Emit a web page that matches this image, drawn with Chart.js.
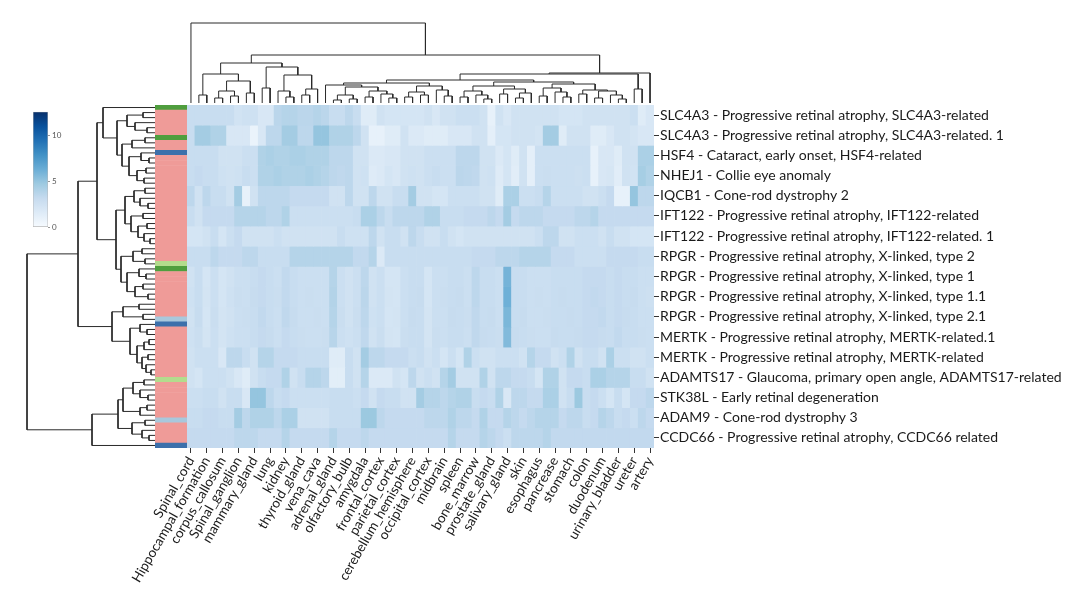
<!DOCTYPE html>
<html>
<head>
<meta charset="utf-8">
<script src="https://cdn.jsdelivr.net/npm/chart.js@4.4.1/dist/chart.umd.min.js"></script>
<style>
  html, body { margin: 0; padding: 0; background: #fff; }
  #wrap { position: relative; width: 1080px; height: 610px; overflow: hidden; }
  canvas { position: absolute; }
</style>
</head>
<body>
<div id="wrap">
  <canvas id="heat"  width="1080" height="610" style="left:0;top:0"></canvas>
  <canvas id="strip" width="32"   height="343" style="left:155px;top:105px"></canvas>
  <canvas id="dendL" width="135"  height="343" style="left:20px;top:105px"></canvas>
  <canvas id="dendT" width="467"  height="88"  style="left:187px;top:15px"></canvas>
  <canvas id="cbar"  width="40"   height="129" style="left:33px;top:105px"></canvas>
</div>
<script>
// ── Data ──────────────────────────────────────────────────────
const rowLabels = [
  'SLC4A3 - Progressive retinal atrophy, SLC4A3-related',
  'SLC4A3 - Progressive retinal atrophy, SLC4A3-related. 1',
  'HSF4 - Cataract, early onset, HSF4-related',
  'NHEJ1 - Collie eye anomaly',
  'IQCB1 - Cone-rod dystrophy 2',
  'IFT122 - Progressive retinal atrophy, IFT122-related',
  'IFT122 - Progressive retinal atrophy, IFT122-related. 1',
  'RPGR - Progressive retinal atrophy, X-linked, type 2',
  'RPGR - Progressive retinal atrophy, X-linked, type 1',
  'RPGR - Progressive retinal atrophy, X-linked, type 1.1',
  'RPGR - Progressive retinal atrophy, X-linked, type 2.1',
  'MERTK - Progressive retinal atrophy, MERTK-related.1',
  'MERTK - Progressive retinal atrophy, MERTK-related',
  'ADAMTS17 - Glaucoma, primary open angle, ADAMTS17-related',
  'STK38L - Early retinal degeneration',
  'ADAM9 - Cone-rod dystrophy 3',
  'CCDC66 - Progressive retinal atrophy, CCDC66 related'
];

// only every other tissue column carries a visible label
const shownTissues = [
  'Spinal_cord', 'Hippocampal_formation', 'corpus_callosum', 'Spinal_ganglion',
  'mammary_gland', 'lung', 'kidney', 'thyroid_gland', 'vena_cava', 'adrenal_gland',
  'olfactory_bulb', 'amygdala', 'frontal_cortex', 'parietal_cortex',
  'cerebellum_hemisphere', 'occipital_cortex', 'midbrain', 'spleen', 'bone_marrow',
  'prostate_gland', 'salivary_gland', 'skin', 'esophagus', 'pancrease', 'stomach',
  'colon', 'duodenum', 'urinary_bladder', 'ureter', 'artery'
];
const N_COLS = 59;

const row0  = [3,3,3,3,3,3,2.4,2.6,2.6,2,2,3.6,3.8,3.8,3.6,3.6,3.8,3.6,3,3,3.5,3,1.5,1.5,2.5,2.2,2.2,2.2,2.2,2.2, 2.5,2,2.5,2.5,2.8,2.8,2.8,2.5,1,2.5,2,2.5,2.5,2.5,2.5,2.5,2.5,2.2,2.2,2.2,2.5,2.5,2.5,2.5,2.5,2.5,2.8,1.5,2];
const row1  = [3,4.5,4.5,4,4,2,2,2,0.8,2,3.5,3.5,4.5,4.5,3.5,3.5,5,5,4,4,4,3.5,2.5,1,1,1.5,1.5,2.5,1.8,1.8, 1.5,1.5,1.5,2,2,2,2.5,2.5,1.2,2.2,2.2,2.5,2.5,2.5,2.3,4.5,4.5,1.5,2.5,2.5,2.5,1.5,1.5,2,2.5,2.5,2.3,2,2];
const row2  = [3,3,3,3,2.5,2.5,2.5,2.8,2.8,4,4.2,4,4,4.2,4.2,4,4,4,3.5,3.5,3.5,2.5,2.5,1.8,1.8,2,2,2.5,2.5,2.5, 2.8,2.8,2.8,2.8,3.5,3.5,3.5,2.5,2.5,1.8,2.2,1.5,2.5,1.2,2.8,2.8,2.8,2.8,2.8,2.8,2.8,1,2,2,1.5,2.5,2.5,4.2,4.2];
const row3  = [3,3.2,3,3,2.6,2.5,2.6,3,2.8,4,4,4.2,4,4,4,4.2,4,3.8,3.5,3.4,3.5,2.5,2.6,1.6,1.8,2.2,2,2.5,2.6,2.5, 2.8,3,2.8,2.8,3.6,3.5,3.4,2.5,2.6,1.6,2.2,1.4,2.5,1.2,2.8,2.9,2.8,2.8,2.8,2.7,2.8,1,2,2.1,1.4,2.5,2.4,4.4,4];
const row4  = [3.5,2.5,3.5,3,3,2.5,4.5,1,2.5,3.5,3.5,3.5,3.5,3.2,3.2,3.2,3.2,3.2,2.5,2.5,3.5,2.5,2.5,3.5,2.5,2.5,3,3,4.5,2.5, 2.5,2.2,2.2,2.8,2.8,2.8,2.8,2.5,2.5,1.5,4.2,4.2,2.8,2.8,3,3.8,2.8,2.8,2.8,2.8,2.5,2.5,2.8,3.2,1,1,5,3.5,3.5];
const row5  = [3,2.5,3.2,3.2,3.2,3.2,3.8,3.8,3.8,3.8,3.5,3.5,4,2.8,2.8,2.8,2.8,2.8,2.8,2.8,2.8,3,4.2,4.2,3.5,3,3.5,3.5,3.5,3.5, 4,4,3,3,3,3.2,3.2,3.2,3.5,3.2,4.5,3.2,3.5,3.5,3.5,3.2,3.2,3.2,3.2,3.5,3.5,3.8,3.2,3.2,3.2,3.2,3.2,3.2,3.2];
const row6  = [2.2,2.2,2.5,3,2.2,2.8,3.2,2.5,2.5,2.5,2.5,2.8,2.5,2.5,2.5,2.5,2.5,2.5,2.5,3,2.6,2.6,2.6,3.5,2.5,3,3,2.5,3.5,3, 2.5,2.5,3,2.5,2.2,2.5,2.5,2.5,2.5,2.5,2.5,2.5,2.5,2.5,2.8,3.5,3.5,2.5,2.5,2.8,2.8,2.8,2.5,3,2.5,2.5,2.2,2.2,2.2];
const row7  = [3,3,3,3.5,3.2,3.2,3.2,3.5,3.5,3,3,3,3,3.8,3.8,3.8,3.8,3.8,3.8,3.8,3.8,3.3,3.3,3.8,1.8,3,3,3,3,3, 3,3,3,3,3,3,3.2,3.2,3.2,3.5,3.5,3.5,3.8,3.8,3.8,3.8,3.2,3.2,3.2,2.8,2.8,2.8,2.8,3.2,3.2,3.2,3.2,3,3];
const row8  = [2.5,3,2.2,2.8,2.2,2.5,2.8,2.8,3,3.2,3,2.8,3.3,3,2.8,2.8,2.8,2.8,3.8,2.8,2.5,2.8,3.5,2.5,2.8,2.2,2.2,2.8,3,3, 2.2,2.8,2.8,3,3,2.8,3.5,3,3,2.8,6,3,3,2.8,2.8,2.8,3,3,3,3,3.2,3.2,3.2,3,3.2,3,3,2.8,2.8];
const row9  = [2.6,3,2.3,2.8,2.2,2.6,2.9,2.8,3.1,3.2,3,2.9,3.3,3,2.8,2.9,2.8,2.8,3.9,2.8,2.5,2.8,3.6,2.5,2.8,2.3,2.2,2.8,3,3.1, 2.2,2.8,2.9,3,3.1,2.8,3.5,3,3,2.8,6.2,3,3,2.8,2.9,2.8,3,3.1,3,3,3.2,3.3,3.2,3,3.2,3,3.1,2.8,2.7];
const row10 = [2.5,3.1,2.2,2.9,2.3,2.5,2.8,2.9,3,3.3,3,2.8,3.4,3.1,2.8,2.8,2.9,2.8,3.8,2.9,2.5,2.9,3.5,2.6,2.8,2.2,2.3,2.8,3.1,3, 2.3,2.8,2.8,3.1,3,2.9,3.4,3,3.1,2.8,5.8,3,3.1,2.8,2.8,2.9,3,3,3.1,3,3.2,3.2,3.3,3,3.2,3.1,3,2.8,2.8];
const row11 = [2.6,2.9,2.3,2.8,2.3,2.6,2.8,2.8,3,3.2,3.1,2.8,3.2,3,2.9,2.8,2.8,2.9,3.7,2.8,2.6,2.8,3.4,2.5,2.9,2.3,2.2,2.9,3,3, 2.3,2.9,2.8,3,3,2.8,3.4,3.1,3,2.9,5.6,3.1,3,2.9,2.8,2.8,3.1,3,3,3.1,3.2,3.2,3.1,3,3.3,3,3,2.9,2.8];
const row12 = [2.5,2.8,2.8,2.8,2,3.5,3.5,3,2.5,3.8,3.8,3.2,3.2,3.2,3,3,3,3,1.5,1.5,3,2.5,4.5,3.5,3.5,3.2,3.2,3.2,2.8,3, 2.5,2.8,2.2,2.8,2.2,4,2.8,2.5,2.5,2.8,2.8,2.8,2.5,3.8,3.2,3.2,2.5,2.8,4,2.5,3,3,2.5,4.2,2.8,2.8,2.5,2.5,2.8];
const row13 = [2.5,2.2,2.8,2.8,2.8,2.5,2,1.5,2.5,3,3.2,3.2,4,2.5,3,3.8,3.8,3.5,1.3,1.3,3,2.5,3.8,1.8,1.8,1.8,2.5,2.2,3.5,2.5, 2.8,2.5,3.8,4.5,2.5,2.5,2.5,4,2.5,3.5,3.5,3.2,3.2,3,2.2,4,4,2.5,3.2,3.2,3,4.2,4.2,3.8,3.8,3.8,3,3,2.5];
const row14 = [2.8,2.8,3,3,2.5,3,3,2,5,5,3.5,3,3.2,2.8,2.8,2.8,2.8,2.8,3,3,3,2.8,3.2,2.5,3.2,3,3,2.5,2.5,4.5, 3.8,3.8,3.5,3.8,4,4,3,3.2,3,4,2,3.5,3.5,3.2,3.2,4.2,4.2,2.5,3,4.8,3,3.2,2.8,2.2,3,2.2,3.2,3.2,3.5];
const row15 = [3,3,3.2,3.2,3,3,4.5,3.5,4,4,4,3.5,4.2,4.2,2.5,2.5,2.5,2.5,3,3,3,3,4.8,4.8,3.5,3.2,3.2,3.2,3.2,3.2, 3.5,3.5,3.5,4,3.5,3.5,3.2,4,3.2,3.2,3.8,3.5,3.2,3.5,3.8,3.8,3.8,3.2,3.5,3.5,3,3.2,3.8,3.5,3,3.2,2.8,3.5,3.2];
const row16 = [3.2,3.2,3.2,3.2,3.2,3.2,3.5,3.5,3.5,3.2,3.2,3.2,3.8,3.2,3.2,3.2,3.2,3.2,3.8,3.2,3.2,3.2,3.5,3.2,3.2,3.2,3.2,3.2,3.2,3.2, 3.2,3.2,3.2,3.8,3.2,3.2,3.2,3.8,3.5,3.2,2.8,3.5,3.5,3.5,3.5,3.8,3.3,3.3,3.3,3.3,3.3,3.3,3.3,3.3,3.3,3.3,3.3,3.3,3.3];
const heatRows = [row0, row1, row2, row3, row4, row5, row6, row7, row8, row9,
                  row10, row11, row12, row13, row14, row15, row16];

// row-colour strip, one entry per sample (4 per labelled row)
// P pink, G green, LG light green, B blue, LB light blue
const stripGroup = [
  'G','P','P','P','P','P','G','P','P','B','P','P','P','P','P','P','P',
  'P','P','P','P','P','P','P','P','P','P','P','P','P','P','LG','G','P',
  'P','P','P','P','P','P','P','P','LB','B','P','P','P','P','P','P','P',
  'P','P','P','LG','P','P','P','P','P','P','P','LB','P','P','P','P','B'
];
const stripColors = { P: '#ef9b98', G: '#4f9e3e', LG: '#b3dc8d', B: '#3c70ab', LB: '#a8c8dc' };

// dendrograms: [height, left, right]; a bare number is a leaf index
const leftTree =
  [12.8,
    [7.7,
      [5.8,
        [5.2, 0,
          [3.8,
            [2.8, [1.2, 1, 2], [2, 3, [0.8, 4, 5]]],
            [3.3, [2.3, [1, 6, 7], 8], [2.6, [1.4, 9, [0.6, 10, 11]], [1.8, [0.9, 12, 13], [1.1, 14, 15]]]]]],
        [3.9,
          [3.0, [2.1, [1.0, 16, 17], [1.5, 18, [0.7, 19, 20]]],
                [2.4, [1.2, 21, 22], [1.7, [0.8, 23, 24], [1.1, 25, [0.5, 26, 27]]]]],
          [3.4, [2.2, [1.3, 28, 29], [1.0, 30, 31]],
                [2.8, [1.6, 32, [0.9, 33, 34]], [2.0, [1.2, 35, 36], [0.7, 37, 38]]]]]],
      [4.3,
        [3.2, [1.6, 39, 40], [1.2, 41, 42]],
        [2.5, [1.5, 43, [0.8, 44, 45]],
              [1.8, [1.1, [0.6, 46, 47], 48], [1.3, [0.7, 49, 50], [0.9, 51, [0.4, 52, 53]]]]]]],
    [6.3,
      [3.7,
        [3.2, [2.2, [1.1, 54, 55], [1.5, 56, [0.7, 57, 58]]], [1.5, [0.8, 59, 60], 61]],
        [2.3, [1.0, 62, 63], [1.3, 64, [0.6, 65, 66]]]],
      67]];

const topTree =
  [80, 0,
    [48,
      [40,
        [29, [8, 1, 2], [22, [12, [5, 3, 4], [7, 5, 6]], [10, 7, 8]]],
        [36, [15, 9, 10], [28, [12, 11, [6, 12, 13]], [14, [8, 14, 15], 16]]]],
      [30,
        [29,
          [23,
            [20,
              [18, 17, [16, [8, [3, 18, 19], [4, 20, 21]], [12, [6, 22, 23], [9, 24, [5, 25, 26]]]]],
              [17, [11, [6, 27, 28], [8, 29, 30]], [13, 31, [7, 32, 33]]]],
            [21,
              [17, [12, [6, 34, 35], [8, 36, [4, 37, 38]]], [14, [9, 39, 40], [10, [5, 41, 42], 43]]],
              [19, [15, [7, 44, 45], [11, 46, [6, 47, 48]]], [13, [9, 49, 50], [12, [5, 51, 52], [8, 53, [4, 54, 55]]]]]]],
          [14, 56, 57]],
        58]]];

const VMAX = 12.6;
const cbarTicks = [0, 5, 10];

// ── Helpers ───────────────────────────────────────────────────
const BLUES = [[247,251,255],[222,235,247],[198,219,239],[158,202,225],[107,174,214],
               [66,146,198],[33,113,181],[8,81,156],[8,48,107]];

function blues(v) {
  const t = Math.max(0, Math.min(1, v / VMAX)) * 8;
  const i = Math.min(7, Math.floor(t)), f = t - i;
  const a = BLUES[i], b = BLUES[i + 1];
  return 'rgb(' + a.map(function (c, k) { return Math.round(c + (b[k] - c) * f); }).join(',') + ')';
}

// walk a tree and collect U-shaped segments (pos along leaves, height)
function walk(node, out) {
  if (typeof node === 'number') return { pos: node + 0.5, h: 0 };
  const A = walk(node[1], out), B = walk(node[2], out), h = node[0];
  out.push([A.pos, A.h], [A.pos, h], [B.pos, h], [B.pos, B.h], null);
  return { pos: (A.pos + B.pos) / 2, h: h };
}

Chart.defaults.font.family = 'Lato, "Open Sans", sans-serif';
Chart.defaults.animation = false;
Chart.defaults.plugins.legend.display = false;
Chart.defaults.plugins.tooltip.enabled = false;

// ── Heatmap ───────────────────────────────────────────────────
const colLabels = [];
for (let c = 0; c < N_COLS; c++) colLabels.push(c % 2 === 0 ? shownTissues[c / 2] : '');

new Chart(document.getElementById('heat'), {
  type: 'bar',
  data: {
    labels: colLabels,
    datasets: heatRows.map(function (vals, r) {
      return {
        data: vals.map(function () { return [r, r + 1]; }),
        backgroundColor: vals.map(blues),
        borderWidth: 0,
        grouped: false,
        categoryPercentage: 1,
        barPercentage: 1
      };
    })
  },
  options: {
    responsive: false,
    layout: { padding: { left: 187, top: 105, right: 0, bottom: 0 } },
    scales: {
      x: {
        ticks: { autoSkip: false, minRotation: 60, maxRotation: 60, padding: 1,
                 color: '#1a1a1a', font: { size: 13.5 } },
        grid: { drawOnChartArea: false, offset: false, tickLength: 5,
                color: function (ctx) { return ctx.index % 2 === 0 ? '#333' : 'rgba(0,0,0,0)'; } },
        border: { display: false },
        afterFit: function (s) { s.height = 162; }
      },
      y: { min: 0, max: 17, reverse: true, display: false },
      yR: {
        type: 'linear', position: 'right', min: 0, max: 17, reverse: true,
        afterBuildTicks: function (s) { s.ticks = rowLabels.map(function (_, i) { return { value: i + 0.5 }; }); },
        ticks: { autoSkip: false, padding: 1, color: '#1a1a1a', font: { size: 14 },
                 callback: function (v, i) { return rowLabels[i]; } },
        grid: { drawOnChartArea: false, tickLength: 5, color: '#333' },
        border: { display: false },
        afterFit: function (s) { s.width = 426; }
      }
    }
  }
});

// ── Row colour strip ──────────────────────────────────────────
new Chart(document.getElementById('strip'), {
  type: 'bar',
  data: {
    labels: stripGroup.map(function (_, i) { return i; }),
    datasets: [{
      data: stripGroup.map(function () { return 1; }),
      backgroundColor: stripGroup.map(function (g) { return stripColors[g]; }),
      borderWidth: 0, categoryPercentage: 1, barPercentage: 1
    }]
  },
  options: {
    responsive: false, indexAxis: 'y',
    scales: { x: { min: 0, max: 1, display: false }, y: { display: false } }
  }
});

// ── Dendrograms ───────────────────────────────────────────────
const lineStyle = { borderColor: '#2a2a2a', borderWidth: 1, pointRadius: 0, tension: 0,
                    spanGaps: false, clip: false };

const segL = [];
walk(leftTree, segL);
new Chart(document.getElementById('dendL'), {
  type: 'line',
  data: { datasets: [Object.assign({
    data: segL.map(function (p) { return p ? { x: p[1], y: p[0] } : { x: 0, y: null }; })
  }, lineStyle)] },
  options: {
    responsive: false,
    scales: {
      x: { type: 'linear', min: 0, max: 13.5, reverse: true, display: false },
      y: { type: 'linear', min: 0, max: stripGroup.length, reverse: true, display: false }
    }
  }
});

const segT = [];
walk(topTree, segT);
new Chart(document.getElementById('dendT'), {
  type: 'line',
  data: { datasets: [Object.assign({
    data: segT.map(function (p) { return p ? { x: p[0], y: p[1] } : { x: 0, y: null }; })
  }, lineStyle)] },
  options: {
    responsive: false,
    scales: {
      x: { type: 'linear', min: 0, max: N_COLS, display: false },
      y: { type: 'linear', min: 0, max: 88, display: false }
    }
  }
});

// ── Colour bar ────────────────────────────────────────────────
new Chart(document.getElementById('cbar'), {
  type: 'bar',
  data: {
    labels: [''],
    datasets: [{
      data: [[0, VMAX]],
      backgroundColor: function (ctx) {
        const ca = ctx.chart.chartArea;
        if (!ca) return '#ccc';
        const g = ctx.chart.ctx.createLinearGradient(0, ca.bottom, 0, ca.top);
        BLUES.forEach(function (c, i) { g.addColorStop(i / 8, 'rgb(' + c.join(',') + ')'); });
        return g;
      },
      borderColor: '#b8b8b8', borderWidth: 0.8, borderSkipped: false,
      categoryPercentage: 1, barPercentage: 1
    }]
  },
  options: {
    responsive: false,
    layout: { padding: { top: 6, bottom: 5, left: 0, right: 0 } },
    scales: {
      x: { display: false },
      y: {
        position: 'right', min: 0, max: VMAX,
        afterBuildTicks: function (s) { s.ticks = cbarTicks.map(function (v) { return { value: v }; }); },
        ticks: { padding: 2, color: '#555', font: { size: 8 } },
        grid: { drawOnChartArea: false, tickLength: 2, color: '#999' },
        border: { display: false },
        afterFit: function (s) { s.width = 25; }
      }
    }
  }
});
</script>
</body>
</html>
